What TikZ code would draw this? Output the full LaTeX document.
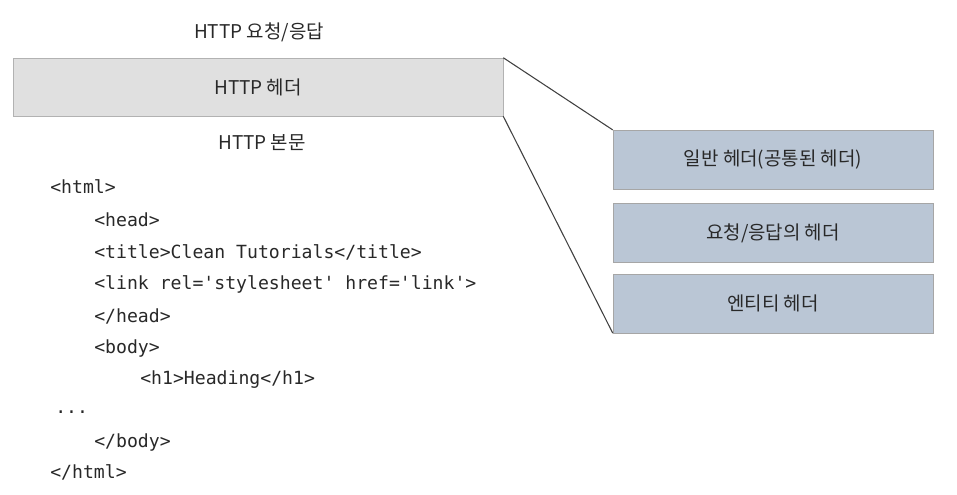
\documentclass[tikz,border=0pt]{standalone}
\usepackage{fontspec}
\setmainfont{Noto Sans CJK KR}
\setmonofont{DejaVu Sans Mono}
\usetikzlibrary{positioning}
\definecolor{hdrgray}{RGB}{224,224,224}
\definecolor{subblue}{RGB}{186,198,213}
\definecolor{ink}{RGB}{40,40,40}

\begin{document}
\begin{tikzpicture}[x=0.75pt, y=-0.75pt,
    lbl/.style={font=\fontsize{14.2}{16}\selectfont, text=ink},
    hdrbox/.style={rectangle, draw=gray!60, fill=hdrgray, inner sep=0pt,
                   minimum width=367.5pt, minimum height=43.5pt,
                   font=\fontsize{14.2}{16}\selectfont, text=ink},
    subbox/.style={rectangle, draw=gray!70, fill=subblue, inner sep=0pt,
                   minimum width=240pt, minimum height=44pt,
                   font=\fontsize{14.2}{16}\selectfont, text=ink},
    code/.style={anchor=west, inner sep=0pt,
                 font=\ttfamily\fontsize{13.6}{15}\selectfont, text=ink},
    conn/.style={draw=black!75, thick},
  ]
  \useasboundingbox (0,0) rectangle (957,495);

  % request / response with its header
  \node[lbl] (msg) at (259,32) {HTTP 요청/응답};
  \node[hdrbox] (hdr) at (258,87) {HTTP 헤더};
  \node[lbl] (body) at (262,143) {HTTP 본문};

  % kinds of header
  \node[subbox] (gen) at (773,159.5) {일반 헤더(공통된 헤더)};
  \node[subbox] (req) at (773,233) {요청/응답의 헤더};
  \node[subbox] (ent) at (773,303.5) {엔티티 헤더};

  \draw[conn] (hdr.north east) -- (gen.north west);
  \draw[conn] (hdr.south east) -- (ent.south west);

  % html body
  \foreach \xx/\yy/\txt [count=\i] in {
      50/187/{<html>},
      94/220/{<head>},
      94/252/{<title>Clean Tutorials</title>},
      94/284/{<link rel='stylesheet' href='link'>},
      94/316/{</head>},
      94/348/{<body>},
      140/380/{<h1>Heading</h1>},
      55/412/{...},
      94/442/{</body>},
      50/472/{</html>}}
    \node[code] (l\i) at (\xx,\yy) {\txt};
\end{tikzpicture}
\end{document}
